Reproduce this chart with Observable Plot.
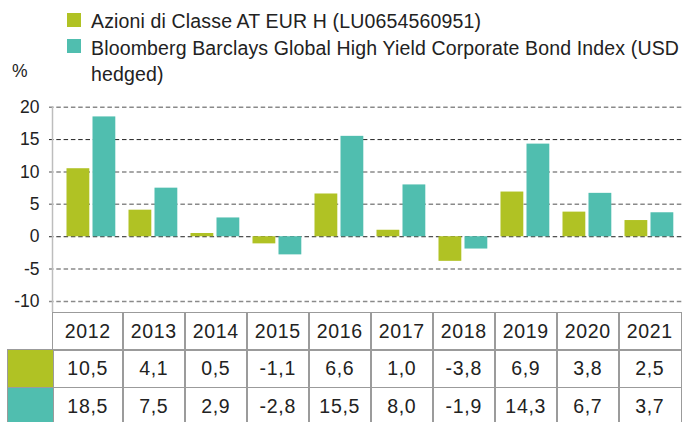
<!DOCTYPE html>
<html><head><meta charset="utf-8">
<script src="https://cdn.jsdelivr.net/npm/d3@7"></script>
<script src="https://cdn.jsdelivr.net/npm/@observablehq/plot@0.6"></script>
<style>
body{margin:0;background:#fff;font-family:"Liberation Sans",Arial,sans-serif;color:#222;}
#wrap{position:relative;width:683px;height:422px;overflow:hidden;}
.leg{position:absolute;left:91px;font-size:19.5px;letter-spacing:0.15px;line-height:26px;white-space:nowrap;}
.sw{position:absolute;left:67px;width:14px;height:14px;}
#pct{position:absolute;left:12px;top:63px;font-size:17.5px;line-height:17px;}
#chart{position:absolute;left:0;top:90px;}
.cell{position:absolute;box-sizing:border-box;border:1.5px solid #9b9b9b;display:flex;align-items:center;justify-content:center;font-size:19.5px;letter-spacing:0.7px;}
</style></head>
<body><div id="wrap"></div>
<script>
const years = [2012, 2013, 2014, 2015, 2016, 2017, 2018, 2019, 2020, 2021];
const fund = [10.5, 4.1, 0.5, -1.1, 6.6, 1.0, -3.8, 6.9, 3.8, 2.5];
const bench = [18.5, 7.5, 2.9, -2.8, 15.5, 8.0, -1.9, 14.3, 6.7, 3.7];
const seriesNames = ["Azioni di Classe AT EUR H (LU0654560951)", "Bloomberg Barclays Global High Yield Corporate Bond Index (USD hedged)"];
const seriesColors = ["#b0c224", "#50beaf"];
const yTicks = [-10, -5, 0, 5, 10, 15, 20];
const unitLabel = "%";

const wrap = document.getElementById("wrap");

// legend
const legendTops = [8, 34.5];
seriesNames.forEach((name, i) => {
  const sw = document.createElement("div");
  sw.className = "sw";
  sw.style.top = (legendTops[i] + 4.5) + "px";
  sw.style.background = seriesColors[i];
  wrap.appendChild(sw);
  const t = document.createElement("div");
  t.className = "leg";
  t.style.top = legendTops[i] + "px";
  if (i === 1) {
    const cut = name.lastIndexOf(" ");
    t.appendChild(document.createTextNode(name.slice(0, cut)));
    t.appendChild(document.createElement("br"));
    t.appendChild(document.createTextNode(name.slice(cut + 1)));
  } else t.textContent = name;
  wrap.appendChild(t);
});
const pct = document.createElement("div");
pct.id = "pct"; pct.textContent = unitLabel; wrap.appendChild(pct);

const rowsFund = years.map((y, i) => ({year: y, value: fund[i]}));
const rowsBench = years.map((y, i) => ({year: y, value: bench[i]}));

const chart = Plot.plot({
  width: 683,
  height: 222,
  marginTop: 16.7,
  marginBottom: 0,
  marginLeft: 49,
  marginRight: 0,
  style: {fontFamily: "Liberation Sans, Arial, sans-serif", color: "#222", background: "transparent"},
  x: {type: "band", domain: years, range: [58.7, 680.7], padding: 0, axis: null},
  y: {domain: [-10, 20], range: [211, 16.7], axis: null},
  marks: [
    Plot.ruleY(yTicks.filter(d => d !== 0 && d !== 15), {stroke: "#8a8a8a", strokeWidth: 1.5, strokeDasharray: "4.5,2.8"}),
    Plot.ruleY(yTicks.filter(d => d === 0 || d === 15), {stroke: "#222", strokeWidth: 1, strokeDasharray: "4.5,2.8"}),
    Plot.frame({anchor: "left", dx: 3, stroke: "#bdbdbd", strokeWidth: 1.5}),
    Plot.axisY(yTicks, {tickSize: 0, tickPadding: 10, fontSize: 17.5, tickFormat: d => String(d), label: null}),
    Plot.barY(rowsFund, {x: "year", y: "value", fill: seriesColors[0], insetLeft: 6.5, insetRight: 32.7}),
    Plot.barY(rowsBench, {x: "year", y: "value", fill: seriesColors[1], insetLeft: 32.5, insetRight: 6.7})
  ]
});
chart.id = "chart";
wrap.appendChild(chart);

// table below, aligned with the x scale
const xs = chart.scale("x");
const tableTop = 311.5, rowH = 37.5, swLeft = 7, axisX = 52;
const fmt = v => v.toFixed(1).replace(".", ",");
function cell(left, top, w, h, text, bg) {
  const c = document.createElement("div");
  c.className = "cell";
  c.style.left = left + "px"; c.style.top = top + "px";
  c.style.width = (w + 1.5) + "px"; c.style.height = (h + 1.5) + "px";
  if (bg) c.style.background = bg;
  if (text != null) c.textContent = text;
  wrap.appendChild(c);
}
years.forEach((yr, i) => {
  const b0 = xs.apply(yr);
  const x0 = i === 0 ? axisX : b0;
  const x1 = b0 + xs.bandwidth;
  cell(x0, tableTop, x1 - x0, rowH, String(yr));
  cell(x0, tableTop + rowH, x1 - x0, rowH, fmt(fund[i]));
  cell(x0, tableTop + 2 * rowH, x1 - x0, rowH, fmt(bench[i]));
});
cell(swLeft, tableTop + rowH, axisX - swLeft, rowH, null, seriesColors[0]);
cell(swLeft, tableTop + 2 * rowH, axisX - swLeft, rowH, null, seriesColors[1]);
</script></body></html>
